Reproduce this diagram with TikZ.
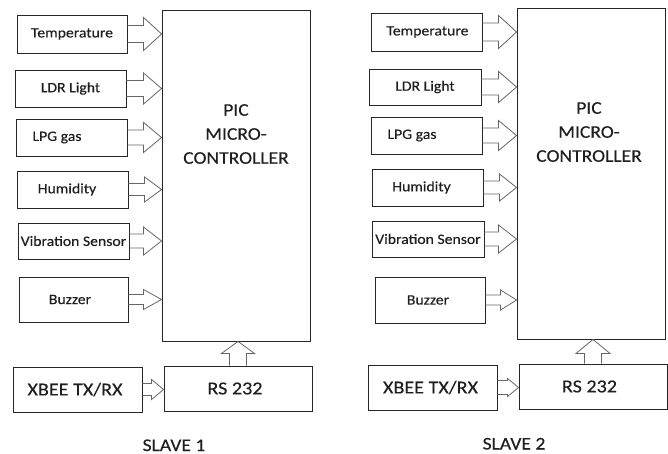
\documentclass[tikz,border=0pt]{standalone}
\usepackage{fontspec}
\setmainfont{Carlito}[FakeStretch=1.1,FakeBold=0.3]
\usetikzlibrary{calc}
\newcommand{\harr}[5]{\draw[arr] let \p1=(#1.east), \p2=(#2.west) in (\x1,\y1+#3) -- (\x2-#5,\y1+#3) -- (\x2-#5,\y1+#4) -- (\x2,\y1) -- (\x2-#5,\y1-#4) -- (\x2-#5,\y1-#3) -- (\x1,\y1-#3);}
\newcommand{\varr}[5]{\draw[arr] let \p1=(#1.north), \p2=(#2.south) in (\x1-#3,\y1) -- (\x1-#3,\y2-#5) -- (\x1-#4,\y2-#5) -- (\x1,\y2) -- (\x1+#4,\y2-#5) -- (\x1+#3,\y2-#5) -- (\x1+#3,\y1);}
\begin{document}
\begin{tikzpicture}[x=1pt,y=-1pt,
  box/.style={draw=black!85, line width=0.9pt, inner sep=0pt, text=black!88, font=\fontsize{14.3}{16}\selectfont},
  bigbox/.style={box, font=\fontsize{18.3}{20}\selectfont},
  tsh/.style={execute at begin node=\hspace*{#1}},
  arr/.style={draw=black!60, line width=0.8pt, line join=miter},
  lbl/.style={font=\fontsize{17.8}{20}\selectfont, inner sep=0pt, text=black!88}]
\useasboundingbox (0,0) rectangle (668,454);
% ---------- Slave 1 ----------
\node[box, minimum width=110, minimum height=38] (t1) at (72,34) {Temperature};
\node[box, minimum width=111, minimum height=37] (l1) at (70.5,88.5) {LDR Light};
\node[box, minimum width=111, minimum height=37, tsh=-29pt] (g1) at (71.5,137.5) {LPG gas};
\node[box, minimum width=111, minimum height=37, tsh=-11pt] (h1) at (72.5,189.5) {Humidity};
\node[box, minimum width=111, minimum height=36] (v1) at (73.5,241) {Vibration Sensor};
\node[box, minimum width=109, minimum height=45, tsh=-7pt] (b1) at (73.5,299.5) {Buzzer};
\node[box, minimum width=148, minimum height=331] (p1) at (236,175.5) {};
\node[lbl, align=center, anchor=north] (p1t) at (236,104) {PIC\\[4pt]MICRO-\\[4pt]CONTROLLER};
\node[bigbox, minimum width=129, minimum height=45, tsh=-5pt] (x1) at (77.5,389.5) {XBEE TX/RX};
\node[bigbox, minimum width=148, minimum height=45, tsh=-6pt] (r1) at (238,388.5) {RS 232};
\node[lbl, anchor=base] (s1) at (174,451) {SLAVE 1};
\harr{t1}{p1}{8.5pt}{16.5pt}{18pt}
\harr{l1}{p1}{8pt}{15.5pt}{18pt}
\harr{g1}{p1}{7.5pt}{15pt}{18pt}
\harr{h1}{p1}{6pt}{12.5pt}{17pt}
\harr{v1}{p1}{7pt}{14pt}{18pt}
\harr{b1}{p1}{5pt}{10pt}{18pt}
\harr{x1}{r1}{6pt}{10pt}{12pt}
\varr{r1}{p1}{8.5pt}{16.5pt}{12pt}
% ---------- Slave 2 ----------
\node[box, minimum width=111, minimum height=38, tsh=2pt] (t2) at (426.5,32) {Temperature};
\node[box, minimum width=112, minimum height=36] (l2) at (425,87) {LDR Light};
\node[box, minimum width=111, minimum height=37, tsh=-29pt] (g2) at (426.5,135.5) {LPG gas};
\node[box, minimum width=111, minimum height=37, tsh=-12pt] (h2) at (427.5,187.5) {Humidity};
\node[box, minimum width=112, minimum height=36] (v2) at (428,239) {Vibration Sensor};
\node[box, minimum width=110, minimum height=46, tsh=-4pt] (b2) at (430,300) {Buzzer};
\node[box, minimum width=148, minimum height=331] (p2) at (591,173.5) {};
\node[lbl, align=center, anchor=north] (p2t) at (589,102) {PIC\\[4pt]MICRO-\\[4pt]CONTROLLER};
\node[bigbox, minimum width=129, minimum height=45, tsh=-4pt] (x2) at (432.5,387.5) {XBEE TX/RX};
\node[bigbox, minimum width=148, minimum height=45, tsh=-7pt] (r2) at (593,386.5) {RS 232};
\node[lbl, anchor=base] (s2) at (514,449.5) {SLAVE 2};
\harr{t2}{p2}{9pt}{16.5pt}{18pt}
\harr{l2}{p2}{8pt}{15.5pt}{18pt}
\harr{g2}{p2}{7.5pt}{15pt}{18pt}
\harr{h2}{p2}{6.5pt}{13.5pt}{17pt}
\harr{v2}{p2}{7pt}{14pt}{18pt}
\harr{b2}{p2}{5pt}{10pt}{16pt}
\harr{x2}{r2}{7pt}{9pt}{11pt}
\varr{r2}{p2}{8.5pt}{17pt}{14pt}
\end{tikzpicture}
\end{document}
